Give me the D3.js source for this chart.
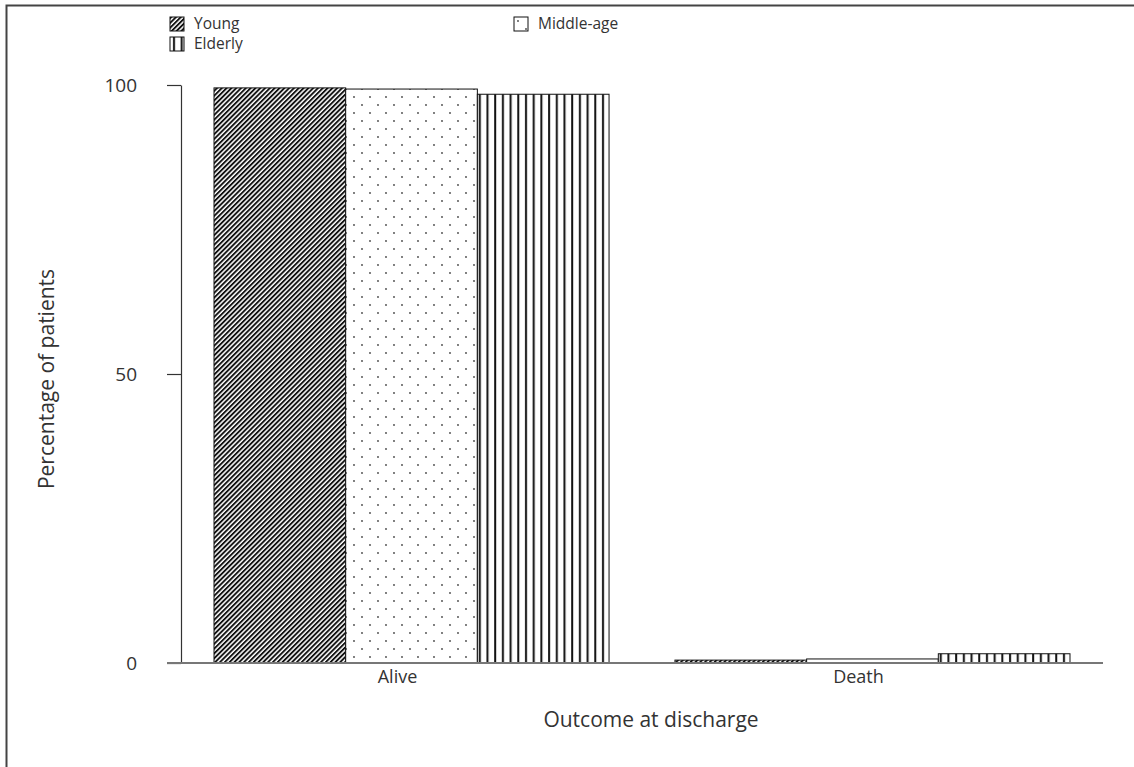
<!DOCTYPE html>
<html>
<head>
<meta charset="utf-8">
<script src="https://cdn.jsdelivr.net/npm/d3@7"></script>
<style>
  body { margin: 0; background: #fff; }
  svg { display: block; font-family: "Open Sans", "Noto Sans", sans-serif; }
  text { fill: #333; }
</style>
</head>
<body>
<svg id="chart" width="1134" height="767"></svg>
<script>
// data
const outcomes = ["Alive", "Death"];
const groups = ["Young", "Middle-age", "Elderly"];
const young = [99.5, 0.5];
const middleAge = [99.3, 0.7];
const elderly = [98.4, 1.6];
const yTicks = [0, 50, 100];

const seriesByGroup = {"Young": young, "Middle-age": middleAge, "Elderly": elderly};
const patternId = {"Young": "pat-diag", "Middle-age": "pat-dots", "Elderly": "pat-vert"};

const margin = {top: 85, right: 31, bottom: 104, left: 181};
const width = 1134 - margin.left - margin.right;
const height = 767 - margin.top - margin.bottom;

const svg = d3.select("#chart");

// fill patterns
const defs = svg.append("defs");
const diag = defs.append("pattern")
    .attr("id", "pat-diag")
    .attr("patternUnits", "userSpaceOnUse")
    .attr("width", 3.4).attr("height", 10)
    .attr("patternTransform", "rotate(45)");
diag.append("rect").attr("width", 3.4).attr("height", 10).attr("fill", "#fff");
diag.append("rect").attr("width", 1.9).attr("height", 10).attr("fill", "#111");

const dots = defs.append("pattern")
    .attr("id", "pat-dots")
    .attr("patternUnits", "userSpaceOnUse")
    .attr("width", 16).attr("height", 16);
dots.append("rect").attr("width", 16).attr("height", 16).attr("fill", "#fff");
dots.append("circle").attr("cx", 4).attr("cy", 4).attr("r", 0.9).attr("fill", "#444");
dots.append("circle").attr("cx", 12).attr("cy", 12).attr("r", 0.9).attr("fill", "#444");

const vert = defs.append("pattern")
    .attr("id", "pat-vert")
    .attr("patternUnits", "userSpaceOnUse")
    .attr("width", 7.7).attr("height", 10);
vert.append("rect").attr("width", 7.7).attr("height", 10).attr("fill", "#fff");
vert.append("rect").attr("x", 3).attr("width", 2).attr("height", 10).attr("fill", "#111");

// outer frame (top and left only)
svg.append("path")
    .attr("d", "M6.5,767 V5.5 H1134")
    .attr("fill", "none")
    .attr("stroke", "#444")
    .attr("stroke-width", 2);

const chart = svg.append("g")
    .attr("transform", `translate(${margin.left},${margin.top})`);

const x0 = d3.scaleBand()
    .domain(outcomes)
    .range([0, width])
    .paddingInner(0.143)
    .paddingOuter(0.0716);

const x1 = d3.scaleBand()
    .domain(groups)
    .range([0, x0.bandwidth()]);

const y = d3.scaleLinear()
    .domain([0, 100])
    .range([height, 0]);

// y axis
const yAxis = d3.axisLeft(y)
    .tickValues(yTicks)
    .tickSize(14)
    .tickSizeOuter(0)
    .tickPadding(30);

const yAxisG = chart.append("g")
    .attr("class", "axis y-axis")
    .call(yAxis);
yAxisG.select(".domain").attr("stroke", "#333").attr("stroke-width", 1.2);
yAxisG.selectAll(".tick line").attr("stroke", "#333").attr("stroke-width", 1.2);
yAxisG.selectAll(".tick text")
    .attr("font-size", "19px")
    .attr("font-family", "Open Sans, sans-serif")
    .attr("fill", "#333");

// bars
const barGroups = chart.selectAll(".outcome")
    .data(outcomes)
    .join("g")
    .attr("class", "outcome")
    .attr("transform", d => `translate(${x0(d)},0)`);

barGroups.selectAll("rect")
    .data((d, i) => groups.map(g => ({group: g, value: seriesByGroup[g][i]})))
    .join("rect")
    .attr("x", d => x1(d.group))
    .attr("y", d => y(d.value))
    .attr("width", x1.bandwidth())
    .attr("height", d => height - y(d.value))
    .attr("fill", d => `url(#${patternId[d.group]})`)
    .attr("stroke", "#111")
    .attr("stroke-width", 1);

// baseline across the whole plot
chart.append("line")
    .attr("x1", -14).attr("x2", width)
    .attr("y1", height).attr("y2", height)
    .attr("stroke", "#777")
    .attr("stroke-width", 2);

// category labels
chart.selectAll(".cat-label")
    .data(outcomes)
    .join("text")
    .attr("class", "cat-label")
    .attr("x", d => x0(d) + x0.bandwidth() / 2 - 14)
    .attr("y", height + 20)
    .attr("text-anchor", "middle")
    .attr("font-size", "18px")
    .text(d => d);

// axis titles
chart.append("text")
    .attr("x", width / 2 + 9)
    .attr("y", height + 64)
    .attr("text-anchor", "middle")
    .attr("font-size", "21px")
    .text("Outcome at discharge");

chart.append("text")
    .attr("transform", `translate(${54 - margin.left},${379 - margin.top}) rotate(-90)`)
    .attr("text-anchor", "middle")
    .attr("font-size", "21px")
    .text("Percentage of patients");

// legend
const legendPos = [
    {group: "Young", x: 170, y: 17},
    {group: "Middle-age", x: 514, y: 17},
    {group: "Elderly", x: 170, y: 37}
];

const legend = svg.selectAll(".legend")
    .data(legendPos)
    .join("g")
    .attr("class", "legend")
    .attr("transform", d => `translate(${d.x},${d.y})`);

legend.append("rect")
    .attr("width", 14).attr("height", 14)
    .attr("fill", d => `url(#${patternId[d.group]})`)
    .attr("stroke", "#111")
    .attr("stroke-width", 1);

legend.append("text")
    .attr("x", 24)
    .attr("y", 12)
    .attr("font-size", "15.5px")
    .text(d => d.group);
</script>
</body>
</html>
